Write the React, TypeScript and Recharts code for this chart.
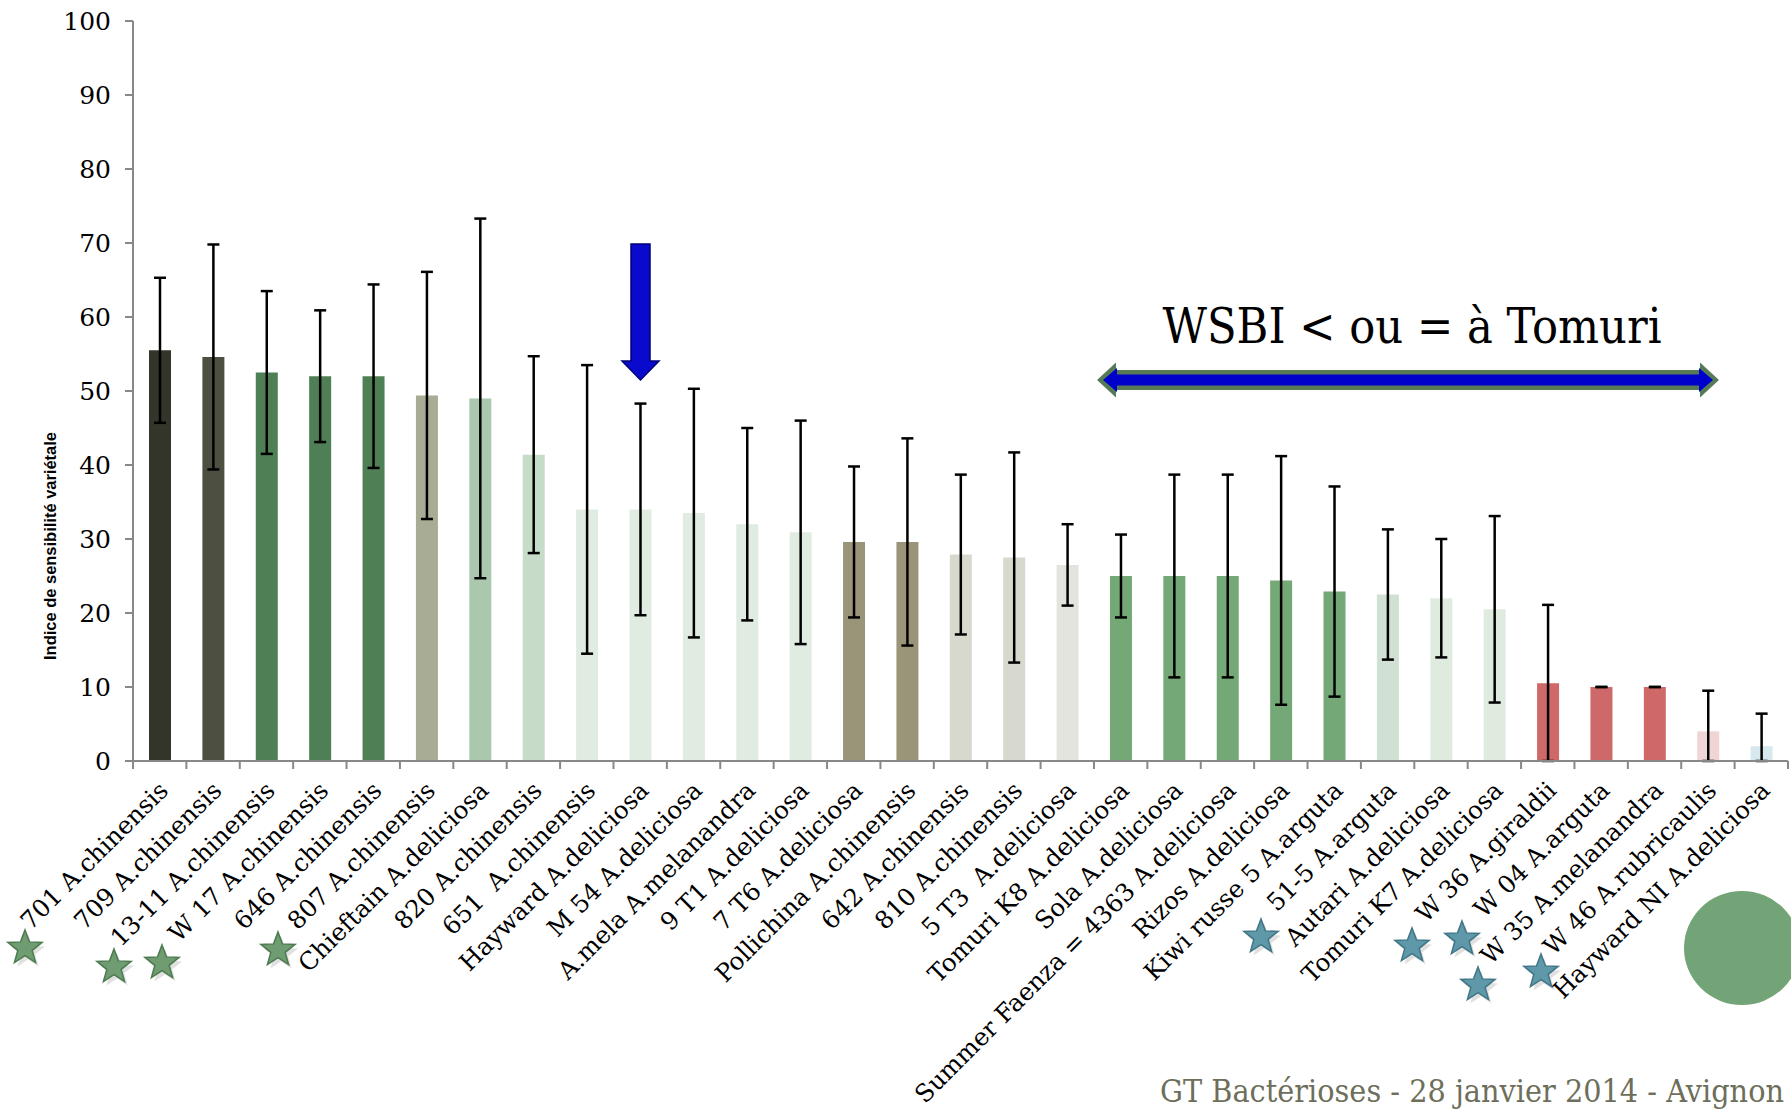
import { BarChart, Bar, XAxis, YAxis, Cell, ErrorBar } from "recharts"

const varieties = [
  "701 A.chinensis",
  "709 A.chinensis",
  "13-11 A.chinensis",
  "W 17 A.chinensis",
  "646 A.chinensis",
  "807 A.chinensis",
  "Chieftain A.deliciosa",
  "820 A.chinensis",
  "651  A.chinensis",
  "Hayward A.deliciosa",
  "M 54 A.deliciosa",
  "A.mela A.melanandra",
  "9 T1 A.deliciosa",
  "7 T6 A.deliciosa",
  "Pollichina A.chinensis",
  "642 A.chinensis",
  "810 A.chinensis",
  "5 T3  A.deliciosa",
  "Tomuri K8 A.deliciosa",
  "Sola A.deliciosa",
  "Summer Faenza = 4363 A.deliciosa",
  "Rizos A.deliciosa",
  "Kiwi russe 5 A.arguta",
  "51-5 A.arguta",
  "Autari A.deliciosa",
  "Tomuri K7 A.deliciosa",
  "W 36 A.giraldii",
  "W 04 A.arguta",
  "W 35 A.melanandra",
  "W 46 A.rubricaulis",
  "Hayward NI A.deliciosa",
]

// indice de sensibilité variétale (moyenne)
const sensitivity = [
  55.5, 54.6, 52.5, 52.0, 52.0, 49.4, 49.0, 41.4, 34.0, 34.0, 33.5, 32.0, 30.9,
  29.6, 29.6, 27.9, 27.5, 26.5, 25.0, 25.0, 25.0, 24.4, 22.9, 22.5, 22.0, 20.5,
  10.5, 10.0, 10.0, 4.0, 2.0,
]

// écart-type
const stdDev = [
  9.8, 15.2, 11.0, 8.9, 12.4, 16.7, 24.3, 13.3, 19.5, 14.3, 16.8, 13.0, 15.1,
  10.2, 14.0, 10.8, 14.2, 5.5, 5.6, 13.7, 13.7, 16.8, 14.2, 8.8, 8.0, 12.6,
  10.6, 0, 0, 5.5, 4.4,
]

const yTicks = [0, 10, 20, 30, 40, 50, 60, 70, 80, 90, 100]

const barColors = [
  "#33352a", "#4d5040", "#4f7f55", "#4f7f55", "#4f7f55", "#a9ac94", "#aac8ae",
  "#c6dbc8", "#e0ece2", "#e0ece2", "#e0ece2", "#e0ece2", "#e0ece2", "#9a9478",
  "#9a9478", "#d8d9ce", "#d8d9ce", "#e4e4de", "#74a876", "#74a876", "#74a876",
  "#74a876", "#74a876", "#d0e0d2", "#e0ebe0", "#e0ebe0", "#cf6969", "#cf6969",
  "#cf6969", "#f0d4d6", "#d7e8ee",
]

const data = varieties.map((name, i) => ({
  name,
  value: sensitivity[i],
  // lower whisker stops at 0
  range: [Math.min(stdDev[i], sensitivity[i]), stdDev[i]],
}))

const W = 1791
const H = 1109
const LEFT = 133
const RIGHT = 3
const STEP = (W - LEFT - RIGHT) / varieties.length
const SERIF = "'DejaVu Serif', serif"
const AXIS = "#888888"

const CategoryTick = (props: any) => {
  const { x, y, payload, index } = props
  return (
    <g>
      <line x1={x - STEP / 2} y1={y} x2={x - STEP / 2} y2={y + 8} stroke={AXIS} strokeWidth={2} />
      {index === varieties.length - 1 && (
        <line x1={x + STEP / 2} y1={y} x2={x + STEP / 2} y2={y + 8} stroke={AXIS} strokeWidth={2} />
      )}
      <text
        transform={`translate(${x + 10},${y + 31}) rotate(-45)`}
        textAnchor="end"
        fontFamily={SERIF}
        fontSize={24.5}
        fill="#000"
        style={{ whiteSpace: "pre" }}
      >
        {payload.value}
      </text>
    </g>
  )
}

const starPoints = (cx: number, cy: number, r: number) => {
  const pts: string[] = []
  for (let k = 0; k < 10; k++) {
    const rad = k % 2 === 0 ? r : r * 0.42
    const a = -Math.PI / 2 + (k * Math.PI) / 5
    pts.push(`${cx + rad * Math.cos(a)},${cy + rad * Math.sin(a)}`)
  }
  return pts.join(" ")
}

const Star = ({ cx, cy, fill, edge }) => (
  <g>
    <polygon points={starPoints(cx + 3, cy + 4, 18)} fill="#000" opacity={0.12} />
    <polygon points={starPoints(cx, cy, 18)} fill={fill} stroke={edge} strokeWidth={1.5} />
  </g>
)

const greenStars = [
  [25, 948],
  [114, 967],
  [162, 963],
  [278, 950],
]
const blueStars = [
  [1261, 937],
  [1412, 946],
  [1462, 939],
  [1478, 985],
  [1541, 972],
]

const Overlay = () => (
  <svg
    width={W}
    height={H}
    style={{ position: "absolute", left: 0, top: 0, pointerEvents: "none" }}
  >
    <text
      transform="translate(56,546) rotate(-90)"
      textAnchor="middle"
      fontFamily="'Liberation Sans Narrow', 'Liberation Sans', sans-serif"
      fontWeight="bold"
      fontSize={17}
      textLength={228}
      lengthAdjust="spacingAndGlyphs"
      fill="#000"
    >
      {"Indice de sensibilité variétale"}
    </text>

    {/* flèche Hayward */}
    <polygon
      points="631,244 650,244 650,361 659,361 640.5,380 622,361 631,361"
      fill="#0a0acc"
      stroke="#00007a"
      strokeWidth={1.5}
    />

    <text
      x={1412}
      y={343}
      textAnchor="middle"
      fontFamily={SERIF}
      fontSize={48}
      textLength={499}
      lengthAdjust="spacingAndGlyphs"
      fill="#000"
    >
      {"WSBI < ou = à Tomuri"}
    </text>
    <polygon
      points="1097,380 1116,362.5 1116,370 1700,370 1700,362.5 1719,380 1700,397.5 1700,390 1116,390 1116,397.5"
      fill="#557a55"
    />
    <polygon
      points="1103,380 1117,368 1117,374.5 1699,374.5 1699,368 1713,380 1699,392 1699,385.5 1117,385.5 1117,392"
      fill="#0000cc"
    />

    {greenStars.map(([cx, cy], i) => (
      <Star key={"g" + i} cx={cx} cy={cy} fill="#6f9c70" edge="#4c7a4f" />
    ))}
    {blueStars.map(([cx, cy], i) => (
      <Star key={"b" + i} cx={cx} cy={cy} fill="#5f98a9" edge="#3f7586" />
    ))}

    <ellipse cx={1742} cy={948} rx={58} ry={57} fill="#72a477" />

    <text
      x={1160}
      y={1102}
      fontFamily={SERIF}
      fontSize={31}
      textLength={624}
      lengthAdjust="spacingAndGlyphs"
      fill="#6d6f5b"
    >
      {"GT Bactérioses - 28 janvier 2014 - Avignon"}
    </text>
  </svg>
)

export default function App() {
  return (
    <div style={{ position: "absolute", left: 0, top: 0, width: W, height: H, background: "#fff", overflow: "hidden" }}>
      <BarChart width={W} height={H} data={data} margin={{ top: 21, right: RIGHT, bottom: 0, left: 0 }}>
        <XAxis
          dataKey="name"
          interval={0}
          height={348}
          tickSize={0}
          tickMargin={0}
          tickLine={false}
          axisLine={{ stroke: AXIS, strokeWidth: 2 }}
          tick={(p) => <CategoryTick {...p} />}
        />
        <YAxis
          width={LEFT}
          domain={[0, 100]}
          ticks={yTicks}
          interval={0}
          tickSize={8}
          tickMargin={14}
          axisLine={{ stroke: AXIS, strokeWidth: 2 }}
          tickLine={{ stroke: AXIS, strokeWidth: 2 }}
          tick={{ fill: "#000", fontSize: 25, fontFamily: SERIF }}
        />
        <Bar dataKey="value" barSize={22} isAnimationActive={false}>
          {data.map((d, i) => (
            <Cell key={d.name} fill={barColors[i]} />
          ))}
          <ErrorBar dataKey="range" width={6} strokeWidth={2.5} stroke="#000" isAnimationActive={false} />
        </Bar>
      </BarChart>
      <Overlay />
    </div>
  )
}
